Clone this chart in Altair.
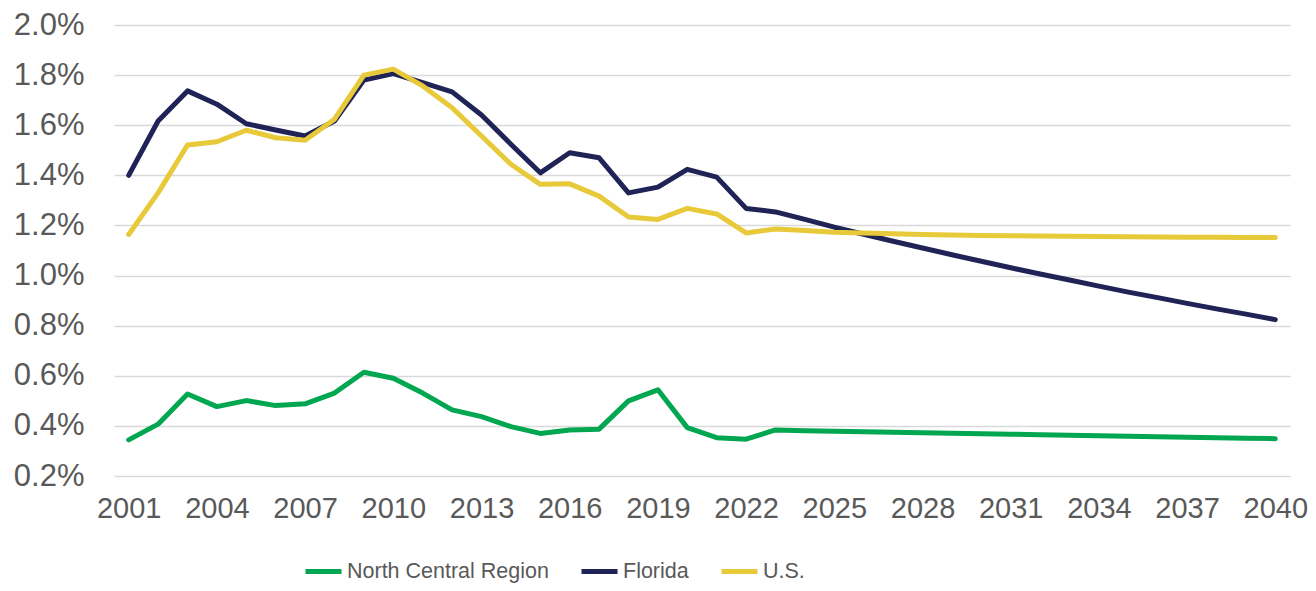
import altair as alt
import pandas as pd

years = list(range(2001, 2041))

north_central = [0.344, 0.407, 0.527, 0.477, 0.501, 0.481, 0.488, 0.531, 0.614, 0.590,
                 0.531, 0.464, 0.437, 0.397, 0.370, 0.384, 0.387, 0.500, 0.544, 0.393,
                 0.353, 0.347, 0.384, 0.381, 0.379, 0.377, 0.375, 0.373, 0.371, 0.369,
                 0.367, 0.365, 0.363, 0.361, 0.359, 0.357, 0.355, 0.353, 0.351, 0.349]

florida = [1.400, 1.617, 1.737, 1.684, 1.606, 1.581, 1.557, 1.617, 1.780, 1.806,
           1.770, 1.733, 1.641, 1.524, 1.410, 1.490, 1.470, 1.330, 1.353, 1.424,
           1.393, 1.268, 1.254, 1.224, 1.193, 1.165, 1.137, 1.110, 1.083, 1.057,
           1.031, 1.006, 0.982, 0.958, 0.934, 0.912, 0.889, 0.867, 0.846, 0.824]

us = [1.164, 1.330, 1.521, 1.534, 1.580, 1.550, 1.540, 1.624, 1.800, 1.824,
      1.757, 1.670, 1.557, 1.444, 1.364, 1.366, 1.317, 1.234, 1.224, 1.268,
      1.246, 1.170, 1.186, 1.180, 1.173, 1.170, 1.167, 1.164, 1.162, 1.160,
      1.159, 1.158, 1.157, 1.156, 1.155, 1.154, 1.153, 1.153, 1.152, 1.152]

series_names = ["North Central Region", "Florida", "U.S."]
series_colors = ["#00A650", "#1F2356", "#E8C93A"]
x_ticks = list(range(2001, 2041, 3))
y_ticks = [0.2, 0.4, 0.6, 0.8, 1.0, 1.2, 1.4, 1.6, 1.8, 2.0]

rows = []
for k, (name, vals) in enumerate(zip(series_names, [north_central, florida, us])):
    for yr, v in zip(years, vals):
        rows.append({"year": yr, "value": v, "series": name, "order": k})
df = pd.DataFrame(rows)

font = "Liberation Sans"
gray = "#595959"

chart = alt.Chart(df).mark_line(
    strokeWidth=5, strokeCap="round", strokeJoin="round"
).encode(
    x=alt.X("year:Q",
            scale=alt.Scale(domain=[2000.5, 2040.5], nice=False, zero=False),
            axis=alt.Axis(values=x_ticks, format="d", title=None, grid=False,
                          domain=False, ticks=False, labelPadding=18,
                          labelFontSize=29, labelFont=font, labelColor=gray,
                          labelFlush=False, labelOverlap=False)),
    y=alt.Y("value:Q",
            scale=alt.Scale(domain=[0.2, 2.0], nice=False, zero=False),
            axis=alt.Axis(values=y_ticks, title=None, domain=False, ticks=False,
                          labelExpr="format(datum.value, '.1f') + '%'",
                          labelPadding=30, labelFontSize=31, labelFont=font,
                          labelColor=gray, gridColor="#D9D9D9", gridWidth=1.5,
                          labelOverlap=False)),
    color=alt.Color("series:N",
                    scale=alt.Scale(domain=series_names, range=series_colors),
                    legend=alt.Legend(title=None, orient="none", direction="horizontal",
                                      legendX=189, legendY=526,
                                      symbolType="stroke", symbolSize=1296,
                                      symbolStrokeWidth=5, labelOffset=3,
                                      columnPadding=22, labelLimit=0,
                                      labelFont=font,
                                      labelFontSize=21.5, labelColor=gray)),
    order=alt.Order("order:Q"),
    detail="series:N",
).properties(
    width=1176, height=451,
    autosize=alt.AutoSizeParams(type="none"),
    padding={"left": 106, "top": 17, "right": 18, "bottom": 107},
).configure_view(stroke=None)

chart.save("out.html", embed_options={"renderer": "svg", "actions": False})
